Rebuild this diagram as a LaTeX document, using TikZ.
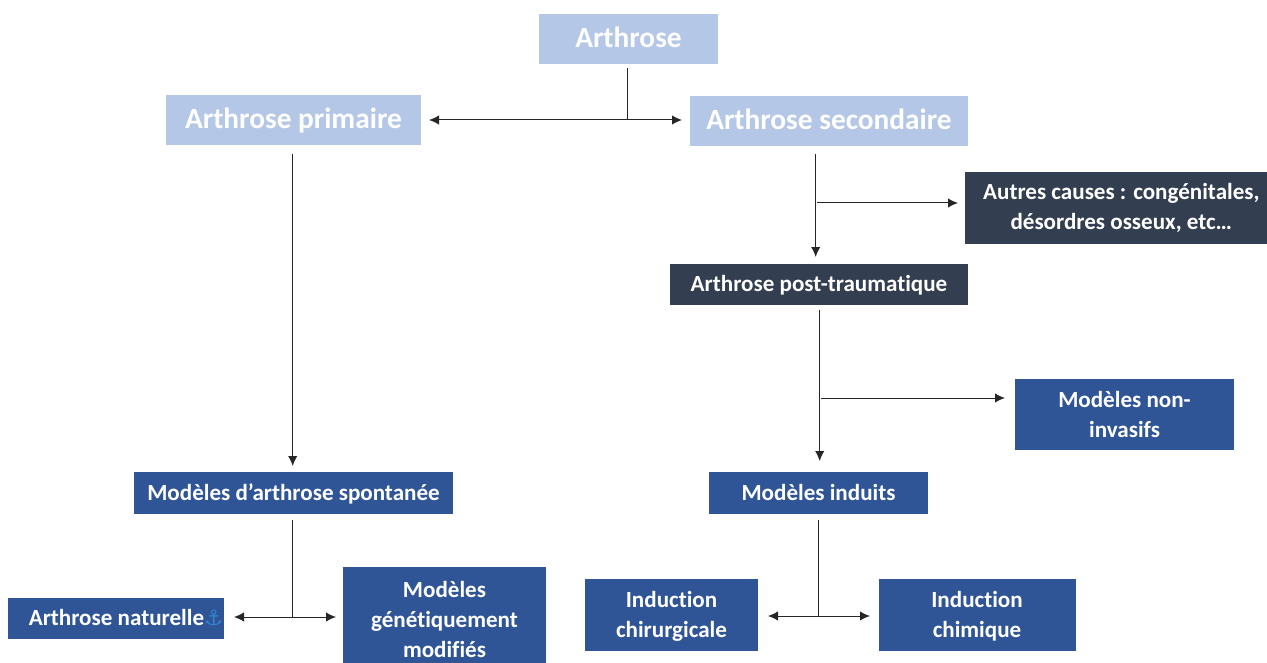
\documentclass[tikz,border=0pt]{standalone}
\usepackage{fontspec}
\setmainfont[Ligatures=NoCommon]{Carlito}
\newfontfamily\anchorfont{DejaVu Sans}
\usetikzlibrary{arrows.meta}
\definecolor{light}{HTML}{B4C7E7}
\definecolor{dark}{HTML}{333F50}
\definecolor{mid}{HTML}{2F5597}
\definecolor{anch}{HTML}{2E86D0}
\newcommand{\lowr}[1]{\raisebox{-1.5pt}[12pt][4pt]{#1}}
\tikzset{
  box/.style={anchor=center,inner sep=0pt,text=white,align=center,font=\bfseries},
  lightbox/.style={box,fill=light,font=\fontsize{22}{24}\bfseries\selectfont,text height=14pt,text depth=1.5pt},
  darkbox/.style={box,fill=dark,font=\fontsize{17.3}{22.5}\bfseries\selectfont},
  midbox/.style={box,fill=mid,font=\fontsize{17.3}{22.5}\bfseries\selectfont},
  oneline/.style={text height=11pt,text depth=0pt},
  conn/.style={draw=black!85,line width=0.75pt},
  arr/.style={conn,-{Latex[length=7.5pt,width=7pt]}},
  darr/.style={conn,{Latex[length=7.5pt,width=7pt]}-{Latex[length=7.5pt,width=7pt]}}
}
\begin{document}
\begin{tikzpicture}[x=0.75pt,y=-0.75pt]
\useasboundingbox (0,0) rectangle (1267,663);
\node[lightbox,minimum width=134.25pt,minimum height=37.5pt] (arth) at (628.5,39) {Arthrose};
\node[lightbox,minimum width=191.25pt,minimum height=37.5pt] (prim) at (293.5,120) {Arthrose primaire};
\node[lightbox,minimum width=208.5pt,minimum height=37.5pt] (sec) at (829,121) {Arthrose secondaire};
\node[darkbox,minimum width=226.5pt,minimum height=54pt] (autres) at (1116,208) {\hspace*{8pt}Autres causes : congénitales,\\\hspace*{8pt}désordres osseux, etc…};
\node[darkbox,oneline,minimum width=223.5pt,minimum height=30.75pt] (post) at (819,284.5) {Arthrose post-traumatique};
\node[midbox,minimum width=164.25pt,minimum height=53.25pt] (noninv) at (1124.5,414) {Modèles non-\\invasifs};
\node[midbox,oneline,minimum width=164.25pt,minimum height=31.5pt] (ind) at (818.5,493) {Modèles induits};
\node[midbox,oneline,minimum width=239.25pt,minimum height=31.5pt] (spont) at (293.5,493) {Modèles d’arthrose spontanée};
\node[midbox,oneline,minimum width=162pt,minimum height=30.75pt] (nat) at (116,618.5) {\hspace*{15pt}Arthrose naturelle{\anchorfont\color{anch}\fontsize{16}{16}\mdseries\selectfont ⚓}};
\node[midbox,minimum width=152.25pt,minimum height=78pt] (gen) at (444.5,619) {Modèles\\génétiquement\\modifiés};
\node[midbox,minimum width=129.75pt,minimum height=54pt] (chir) at (671.5,615) {\lowr{Induction}\\\lowr{chirurgicale}};
\node[midbox,minimum width=147.75pt,minimum height=54pt] (chim) at (977,615) {\lowr{Induction}\\\lowr{chimique}};
% connector ends
\coordinate (a0) at (627.8,68);
\coordinate (a1) at (627.8,120);
\coordinate (al) at (429,120);
\coordinate (ar) at (682,120);
\coordinate (p0) at (292.7,154);
\coordinate (p1) at (292.7,466);
\coordinate (s0) at (815.7,154);
\coordinate (s1) at (815.7,257);
\coordinate (s2) at (817,203);
\coordinate (s3) at (958,203);
\coordinate (t0) at (819.7,310);
\coordinate (t1) at (819.7,461);
\coordinate (t2) at (821,398);
\coordinate (t3) at (1005,398);
\coordinate (n0) at (292.7,520);
\coordinate (n1) at (292.7,617);
\coordinate (nl) at (234,617);
\coordinate (nr) at (336,617);
\coordinate (i0) at (818,520);
\coordinate (i1) at (818,616);
\coordinate (il) at (768,616);
\coordinate (ir) at (870,616);
\draw[conn] (a0) -- (a1);
\draw[darr] (al) -- (ar);
\draw[arr] (p0) -- (p1);
\draw[arr] (s0) -- (s1);
\draw[arr] (s2) -- (s3);
\draw[arr] (t0) -- (t1);
\draw[arr] (t2) -- (t3);
\draw[conn] (n0) -- (n1);
\draw[darr] (nl) -- (nr);
\draw[conn] (i0) -- (i1);
\draw[darr] (il) -- (ir);
\end{tikzpicture}
\end{document}
